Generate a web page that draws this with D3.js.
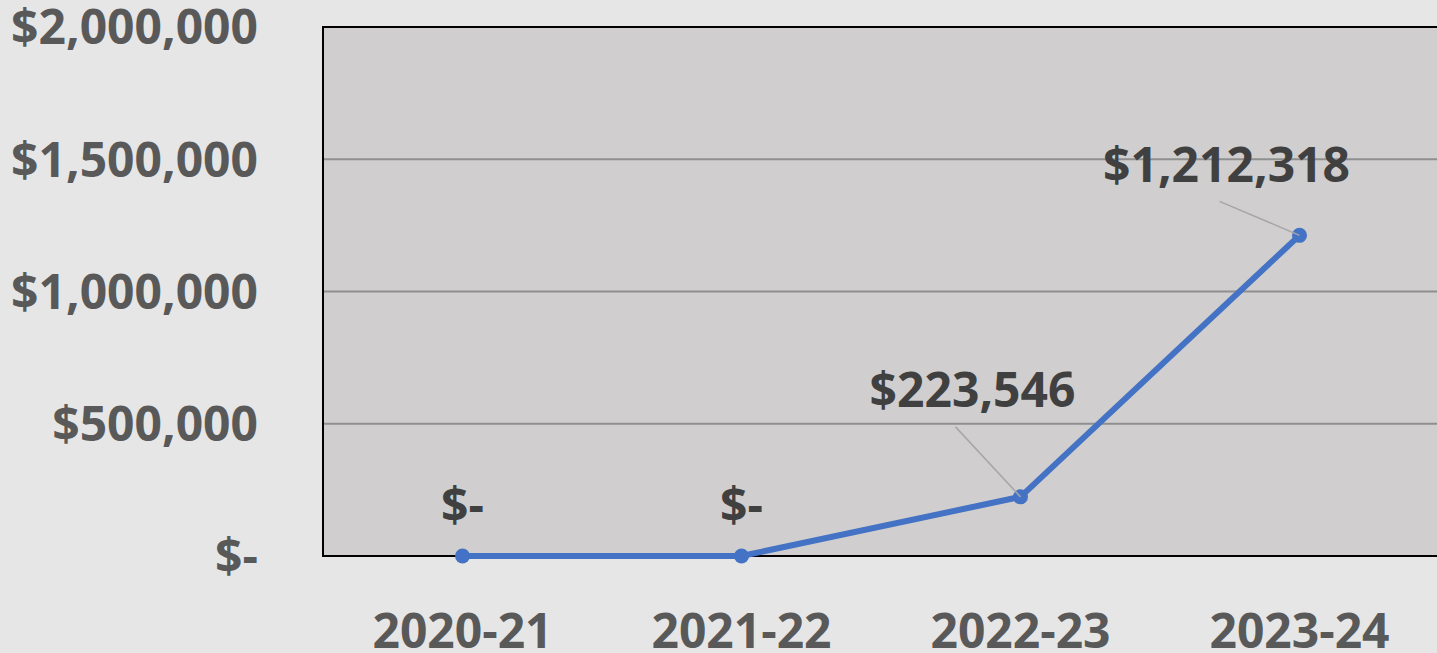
<!DOCTYPE html>
<html>
<head>
<meta charset="utf-8">
<script src="https://cdn.jsdelivr.net/npm/d3@7"></script>
<style>
  html, body { margin: 0; padding: 0; background: #e7e6e6; overflow: hidden; }
  text { font-family: "Open Sans", "Noto Sans", sans-serif; font-weight: bold; }
</style>
</head>
<body>
<script>
// chart data
const years = ["2020-21", "2021-22", "2022-23", "2023-24"];
const amounts = [0, 0, 223546, 1212318];
const yTicks = [0, 500000, 1000000, 1500000, 2000000];

const W = 1437, H = 653;
const m = {left: 323, top: 27, bottom: 556, right: 1439};

const svg = d3.select("body").append("svg")
  .attr("width", W).attr("height", H);

const x = d3.scaleBand().domain(years).range([m.left, m.right]);
const y = d3.scaleLinear().domain([0, 2000000]).range([m.bottom, m.top]);

const money = function(v) { return v === 0 ? "$-" : "$" + d3.format(",")(v); };

// plot background
svg.append("rect")
  .attr("x", m.left).attr("y", m.top)
  .attr("width", m.right - m.left).attr("height", m.bottom - m.top)
  .attr("fill", "#d0cece");

// gridlines
svg.append("g").selectAll("line")
  .data(yTicks.slice(1, 4))
  .join("line")
  .attr("x1", m.left).attr("x2", m.right)
  .attr("y1", d => y(d)).attr("y2", d => y(d))
  .attr("stroke", "#8f8f8f").attr("stroke-width", 2);

// border (left, top, bottom)
svg.append("path")
  .attr("d", `M${m.right + 5},${m.top}H${m.left}V${m.bottom}H${m.right + 5}`)
  .attr("fill", "none").attr("stroke", "#000").attr("stroke-width", 2);

// y axis labels
const yAxis = svg.append("g")
  .attr("transform", "translate(258,0)")
  .call(d3.axisLeft(y).tickValues(yTicks).tickFormat(money).tickSize(0).tickPadding(0));
yAxis.select(".domain").remove();
yAxis.selectAll("text")
  .attr("fill", "#595959").attr("font-size", 48)
  .attr("font-family", "Open Sans").attr("font-weight", "bold")
  .attr("dy", "0.35em");

// x axis labels
const xAxis = svg.append("g")
  .attr("transform", "translate(0,648)")
  .call(d3.axisBottom(x).tickSize(0).tickPadding(0));
xAxis.select(".domain").remove();
xAxis.selectAll("text")
  .attr("fill", "#595959").attr("font-size", 48)
  .attr("font-family", "Open Sans").attr("font-weight", "bold")
  .attr("dy", 0);

const pts = years.map((yr, i) => ({yr: yr, v: amounts[i]}));
const cx = d => x(d.yr) + x.bandwidth() / 2;

// line
svg.append("path")
  .datum(pts)
  .attr("d", d3.line().x(cx).y(d => y(d.v)))
  .attr("fill", "none").attr("stroke", "#4472c4")
  .attr("stroke-width", 6).attr("stroke-linejoin", "round");

// markers
svg.append("g").selectAll("circle")
  .data(pts).join("circle")
  .attr("cx", cx).attr("cy", d => y(d.v)).attr("r", 7.5)
  .attr("fill", "#4472c4");

// data labels: offsets relative to the point
const labelOff = [[0, -34], [0, -34], [-48, -90], [-73, -53]];
const leaders = [null, null, [-65, -70], [-80, -34]];

svg.append("g").selectAll("line")
  .data(pts.filter((d, i) => leaders[i]))
  .join("line")
  .attr("x1", d => cx(d) + leaders[years.indexOf(d.yr)][0])
  .attr("y1", d => y(d.v) + leaders[years.indexOf(d.yr)][1])
  .attr("x2", cx).attr("y2", d => y(d.v))
  .attr("stroke", "#a6a6a6").attr("stroke-width", 1.5);

svg.append("g").selectAll("text")
  .data(pts).join("text")
  .attr("x", (d, i) => cx(d) + labelOff[i][0])
  .attr("y", (d, i) => y(d.v) + labelOff[i][1])
  .attr("text-anchor", "middle")
  .attr("fill", "#404040").attr("font-size", 48)
  .text(d => money(d.v));
</script>
</body>
</html>
